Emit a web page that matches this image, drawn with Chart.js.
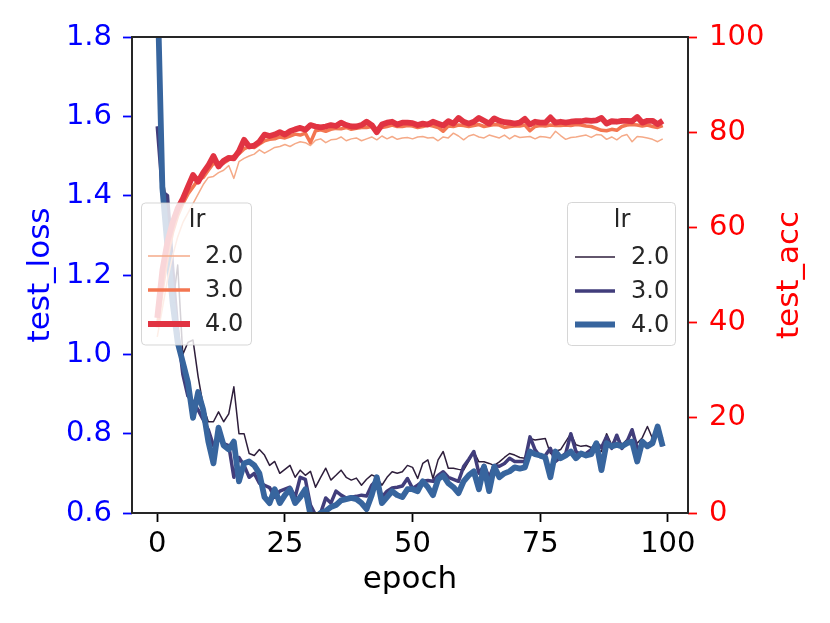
<!DOCTYPE html>
<html>
<head>
<meta charset="utf-8">
<script src="https://cdn.jsdelivr.net/npm/chart.js@4.4.1/dist/chart.umd.min.js"></script>
<style>
  html, body { margin: 0; padding: 0; background: #ffffff; }
  #wrap { width: 830px; height: 623px; }
</style>
</head>
<body>
<div id="wrap"><canvas id="c" width="830" height="623"></canvas></div>
<script>
// ---------- data ----------
const epochs = Array.from({length: 100}, (_, i) => i);
const lrLabels = ['2.0', '3.0', '4.0'];
const xTicks = [0, 25, 50, 75, 100];
const lossTicks = [0.6, 0.8, 1.0, 1.2, 1.4, 1.6, 1.8];
const accTicks = [0, 20, 40, 60, 80, 100];

const lossLr2 = [
  1.95, 1.46, 1.36, 1.12, 1.225, 1.00, 1.03, 1.036, 0.944, 0.87,
  0.83, 0.83, 0.855, 0.83, 0.85, 0.918, 0.80, 0.80, 0.75, 0.745,
  0.76, 0.746, 0.72, 0.73, 0.70, 0.71, 0.72, 0.69, 0.708, 0.695,
  0.705, 0.665, 0.69, 0.713, 0.683, 0.695, 0.708, 0.69, 0.683, 0.688,
  0.67, 0.685, 0.696, 0.69, 0.67, 0.69, 0.704, 0.70, 0.704, 0.72,
  0.715, 0.687, 0.725, 0.734, 0.687, 0.734, 0.755, 0.713, 0.713, 0.71,
  0.708, 0.73, 0.755, 0.729, 0.729, 0.725, 0.72, 0.729, 0.74, 0.75,
  0.746, 0.74, 0.738, 0.788, 0.784, 0.786, 0.788, 0.75, 0.755, 0.76,
  0.78, 0.80, 0.772, 0.768, 0.77, 0.765, 0.76, 0.755, 0.80, 0.772,
  0.796, 0.772, 0.785, 0.80, 0.776, 0.79, 0.818, 0.788, 0.81, 0.788
];
const lossLr3 = [
  1.575, 1.41, 1.40, 1.22, 1.06, 0.95, 0.895, 0.88, 0.86, 0.835,
  0.81, 0.77, 0.79, 0.775, 0.77, 0.69, 0.74, 0.72, 0.69, 0.70,
  0.675, 0.67, 0.664, 0.64, 0.655, 0.66, 0.665, 0.64, 0.69, 0.685,
  0.62, 0.595, 0.60, 0.638, 0.625, 0.655, 0.645, 0.638, 0.64, 0.642,
  0.645, 0.643, 0.67, 0.683, 0.64, 0.655, 0.663, 0.665, 0.668, 0.687,
  0.662, 0.67, 0.68, 0.682, 0.68, 0.695, 0.704, 0.69, 0.685, 0.68,
  0.717, 0.735, 0.755, 0.70, 0.72, 0.69, 0.72, 0.718, 0.725, 0.738,
  0.73, 0.73, 0.73, 0.792, 0.759, 0.742, 0.745, 0.763, 0.73, 0.74,
  0.75, 0.80, 0.755, 0.746, 0.75, 0.76, 0.776, 0.765, 0.792, 0.763,
  0.796, 0.763, 0.78, 0.81, 0.763, 0.77, 0.772, 0.78, 0.818, 0.768
];
const lossLr4 = [
  1.95, 1.42, 1.27, 1.13, 1.03, 0.98, 0.93, 0.84, 0.905, 0.86,
  0.78, 0.725, 0.815, 0.77, 0.76, 0.78, 0.68, 0.725, 0.73, 0.72,
  0.70, 0.64, 0.625, 0.66, 0.625, 0.645, 0.66, 0.625, 0.64, 0.66,
  0.595, 0.59, 0.60, 0.605, 0.615, 0.62, 0.632, 0.635, 0.638, 0.635,
  0.625, 0.61, 0.645, 0.69, 0.625, 0.64, 0.655, 0.645, 0.64, 0.66,
  0.66, 0.655, 0.68, 0.665, 0.645, 0.685, 0.695, 0.675, 0.665, 0.65,
  0.68, 0.695, 0.705, 0.66, 0.717, 0.655, 0.717, 0.69, 0.70, 0.705,
  0.715, 0.712, 0.715, 0.755, 0.748, 0.745, 0.74, 0.69, 0.755, 0.738,
  0.745, 0.755, 0.738, 0.75, 0.745, 0.748, 0.776, 0.708, 0.776, 0.768,
  0.772, 0.768, 0.776, 0.78, 0.73, 0.78, 0.768, 0.776, 0.818, 0.768
];
const accLr2 = [
  37, 43, 49, 54, 58, 61, 63, 65, 67, 69,
  70.5, 70.7, 71.5, 72, 73, 70.3, 73.8, 74.5, 75, 75.4,
  76.3, 75.6, 76.2, 76.8, 77, 77.4, 77, 77.6, 78, 77.8,
  77.2, 78.3, 78.6, 77.8, 78.4, 78.5, 79, 78.2, 78.6, 78.8,
  78.2, 78.6, 79, 78.4, 79.2, 78.6, 79.1, 78.5, 78.8, 78.9,
  78.6, 79, 79.1, 78.8, 78.9, 78.2, 79, 78.8, 79.8, 79.2,
  78.4, 79.2, 79.5, 79.0, 78.8, 79.4, 79.1, 78.8, 79.4, 78.6,
  79.3, 78.9, 79.0, 79.1, 78.6, 79.1, 79.0, 78.8, 80.2, 79.3,
  78.5, 78.9, 79.0, 79.2, 79.4, 78.9, 79.5, 79.4, 78.5, 79.0,
  78.4, 79.2, 79.5, 78.0, 79.1, 79.0, 78.8, 78.5, 78.0, 78.6
];
const accLr3 = [
  39, 47, 54, 59, 62.5, 65, 67, 68.5, 70, 70.5,
  72, 73.5, 73, 73.5, 74.2, 75, 75.5, 76.5, 77, 76.8,
  77.5, 78.2, 78.5, 78.6, 79, 78.8, 79.2, 79.6, 79.4, 79.8,
  77.8, 80.3, 80.5, 80.2, 80.6, 80.8, 80.7, 81, 80.6, 80.8,
  81, 81, 81.2, 80.5, 81, 81.2, 81.5, 81.2, 81.2, 81.4,
  81.3, 81, 81.2, 81.5, 81.3, 81, 80.2, 81.3, 81.2, 81.5,
  81.4, 81.2, 81.4, 81.6, 81.2, 81.4, 81.6, 81.5, 81, 81.2,
  81.3, 81.3, 81.5, 80.3, 81.2, 81.4, 81.3, 81.5, 81.4, 81.4,
  81.5, 81.4, 81.6, 81.5, 81.3, 81.2, 80.8, 80.4, 80.3, 80.6,
  80.4, 81.2, 81.5, 81.6, 81.5, 81.3, 81.5, 81.2, 81.0, 81.4
];
const accLr4 = [
  41, 51, 57, 61, 64, 66, 68.5, 71, 69.6, 71.5,
  73, 75, 72.8, 74, 74.6, 74.5, 76, 78.4, 77, 77.2,
  78, 79.5, 79.2, 79.5, 80, 79.5, 80.2, 80.6, 80.9, 80.5,
  81.5, 81.2, 81, 81.2, 81.5, 81.3, 82, 81.5, 81.2, 81.2,
  81.5, 82.2, 81.5, 80, 81.6, 82, 82.2, 81.6, 82, 82,
  81.9, 81.5, 81.8, 81.6, 82.2, 81.8, 81.4, 82.3, 81.8, 83,
  82.2, 81.8, 82.2, 83, 82.4, 81.8, 82.9, 82.4, 82.1, 82,
  81.8, 82, 82.8, 81.6, 82.2, 82, 82, 83.1, 82, 82.2,
  82, 82.2, 82.3, 82.3, 82.5, 82.4, 82.5, 83, 81.8, 82.3,
  82.2, 82.4, 82.4, 82.3, 83.2, 82, 82.4, 82.4, 81.7, 82.4
];

// ---------- styles ----------
const FONT = '"DejaVu Sans", "Liberation Sans", sans-serif';
Chart.defaults.font.family = FONT;
const lossColors = ['#2e1e3b', '#413d7b', '#37659e'];
const accColors = ['#f5aa88', '#f37651', '#e13342'];
const widths = [1.5, 3.5, 5.8];

function mkSet(label, data, axis, color, width, order, group) {
  return {
    label: label, data: data, yAxisID: axis,
    borderColor: color, backgroundColor: color,
    borderWidth: width, pointRadius: 0, pointHoverRadius: 0,
    tension: 0, fill: false, order: order,
    borderJoinStyle: 'round', borderCapStyle: 'butt',
    group: group
  };
}

const datasets = [
  mkSet(lrLabels[0], lossLr2, 'y', lossColors[0], widths[0], 5, 'loss'),
  mkSet(lrLabels[1], lossLr3, 'y', lossColors[1], widths[1], 4, 'loss'),
  mkSet(lrLabels[2], lossLr4, 'y', lossColors[2], widths[2], 3, 'loss'),
  mkSet(lrLabels[0], accLr2, 'y2', accColors[0], widths[0], 2, 'acc'),
  mkSet(lrLabels[1], accLr3, 'y2', accColors[1], widths[1], 1, 'acc'),
  mkSet(lrLabels[2], accLr4, 'y2', accColors[2], widths[2], 0, 'acc')
];

function drawLegend(ctx, chart, group, box, lineX0, lineX1, textX, titleX, titleY, rowYs) {
  ctx.save();
  ctx.beginPath();
  ctx.roundRect(box.x, box.y, box.w, box.h, 4);
  ctx.fillStyle = 'rgba(255,255,255,0.8)';
  ctx.fill();
  ctx.lineWidth = 1;
  ctx.strokeStyle = 'rgba(204,204,204,0.8)';
  ctx.stroke();
  ctx.font = '24px ' + FONT;
  ctx.fillStyle = '#262626';
  ctx.textBaseline = 'middle';
  ctx.textAlign = 'center';
  ctx.fillText('lr', titleX, titleY);
  const sets = chart.data.datasets.filter(d => d.group === group);
  sets.forEach((d, i) => {
    ctx.beginPath();
    ctx.strokeStyle = d.borderColor;
    ctx.lineWidth = d.borderWidth;
    ctx.lineCap = 'butt';
    ctx.moveTo(lineX0, rowYs[i]);
    ctx.lineTo(lineX1, rowYs[i]);
    ctx.stroke();
    ctx.textAlign = 'left';
    ctx.fillStyle = '#262626';
    ctx.fillText(d.label, textX, rowYs[i] + 1);
  });
  ctx.restore();
}

const overlayPlugin = {
  id: 'overlay',
  afterDraw(chart) {
    const ctx = chart.ctx;
    const a = chart.chartArea;
    ctx.save();
    ctx.strokeStyle = '#262626';
    ctx.lineWidth = 2;
    ctx.strokeRect(a.left, a.top, a.right - a.left, a.bottom - a.top);
    // right axis title, reading bottom-to-top
    ctx.translate(790, (a.top + a.bottom) / 2);
    ctx.rotate(-Math.PI / 2);
    ctx.font = '31px ' + FONT;
    ctx.fillStyle = '#ff0000';
    ctx.textAlign = 'center';
    ctx.textBaseline = 'middle';
    ctx.fillText('test_acc', 0, 0);
    ctx.restore();
    drawLegend(ctx, chart, 'acc', {x: 141.5, y: 203, w: 110, h: 142},
      148, 190, 205, 197, 221, [256, 290, 324]);
    drawLegend(ctx, chart, 'loss', {x: 567.5, y: 202.5, w: 108, h: 143},
      575, 615, 631, 622, 221, [257, 291, 324.5]);
  }
};

new Chart(document.getElementById('c'), {
  type: 'line',
  data: { labels: epochs, datasets: datasets },
  plugins: [overlayPlugin],
  options: {
    responsive: false,
    animation: false,
    layout: { padding: { top: 37, left: 0, right: 0, bottom: 0 } },
    plugins: { legend: { display: false }, tooltip: { enabled: false } },
    scales: {
      x: {
        type: 'linear', position: 'bottom', min: -4.95, max: 103.95,
        afterBuildTicks: s => { s.ticks = xTicks.map(v => ({value: v})); },
        afterFit: s => { s.height = 110; },
        ticks: { color: '#000000', font: { size: 29 }, padding: 5, maxRotation: 0, autoSkip: false,
                 callback: v => String(v) },
        grid: { drawOnChartArea: false, drawTicks: true, tickLength: 9, tickColor: '#000000', tickWidth: 1.8 },
        border: { display: false },
        title: { display: true, text: 'epoch', color: '#000000', font: { size: 31 }, padding: { top: 0, bottom: 24 } }
      },
      y: {
        type: 'linear', position: 'left', min: 0.6, max: 1.8,
        afterBuildTicks: s => { s.ticks = lossTicks.map(v => ({value: v})); },
        afterFit: s => { s.width = 132; },
        ticks: { color: '#0000ff', font: { size: 29 }, padding: 11, autoSkip: false,
                 callback: v => Number(v).toFixed(1) },
        grid: { drawOnChartArea: false, drawTicks: true, tickLength: 9, tickColor: '#0000ff', tickWidth: 1.8 },
        border: { display: false },
        title: { display: true, text: 'test_loss', color: '#0000ff', font: { size: 31 }, padding: { top: 22, bottom: 0 } }
      },
      y2: {
        type: 'linear', position: 'right', min: 0, max: 100,
        afterBuildTicks: s => { s.ticks = accTicks.map(v => ({value: v})); },
        afterFit: s => { s.width = 142; },
        ticks: { color: '#ff0000', font: { size: 29 }, padding: 12, autoSkip: false,
                 callback: v => String(v) },
        grid: { drawOnChartArea: false, drawTicks: true, tickLength: 9, tickColor: '#ff0000', tickWidth: 1.8 },
        border: { display: false },
        title: { display: false }
      }
    }
  }
});
</script>
</body>
</html>
